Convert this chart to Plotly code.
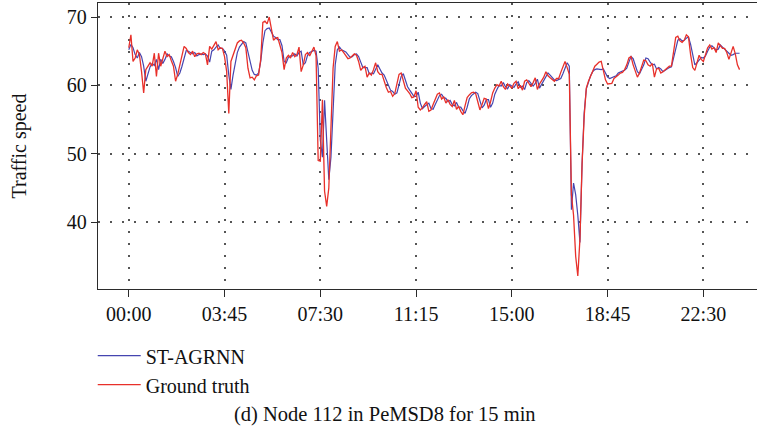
import plotly.graph_objects as go

# 5-minute samples over one day (minutes after midnight)
minutes = [5 * k for k in range(288)]

tick_minutes = [0, 225, 450, 675, 900, 1125, 1350]
tick_labels = ["00:00", "03:45", "07:30", "11:15", "15:00", "18:45", "22:30"]
speed_ticks = [40, 50, 60, 70]

ground_truth = [
    65.5, 67.4, 63.5, 64.0, 65.2, 64.5, 62.0, 58.9, 62.3, 62.8,
    63.3, 62.8, 64.7, 61.3, 64.7, 62.8, 64.0, 65.0, 64.2, 64.5,
    63.6, 62.8, 60.6, 61.6, 63.0, 64.2, 65.7, 65.4, 64.8, 64.5,
    65.0, 64.2, 64.6, 64.7, 64.5, 64.8, 64.6, 63.0, 65.7, 65.3,
    65.8, 66.4, 65.2, 65.5, 65.4, 64.2, 62.0, 55.9, 63.5, 64.5,
    65.5, 66.2, 66.5, 66.6, 66.2, 65.5, 62.5, 61.1, 61.2, 60.8,
    61.4, 61.5, 63.8, 69.2, 69.4, 69.0, 70.0, 68.5, 66.6, 66.9,
    67.0, 65.9, 64.8, 62.3, 64.0, 64.4, 64.0, 64.8, 64.2, 64.5,
    65.6, 62.0, 63.0, 64.5, 64.8, 64.3, 65.0, 65.6, 64.3, 49.0,
    48.9, 57.9, 44.5, 42.3, 45.0, 55.0, 62.5, 65.7, 66.4, 65.0,
    65.2, 64.8, 64.4, 63.9, 64.0, 64.3, 64.6, 64.4, 63.5, 62.2,
    62.6, 62.8, 61.2, 61.8, 61.5, 62.3, 63.3, 62.0, 61.6, 61.6,
    60.5, 59.7, 59.0, 59.1, 58.4, 58.8, 60.2, 61.6, 61.8, 60.6,
    59.6, 59.2, 58.8, 58.2, 58.3, 59.2, 56.8, 56.4, 56.7, 57.2,
    57.6, 56.2, 56.4, 57.2, 57.9, 58.7, 58.9, 58.0, 58.3, 57.4,
    57.9, 57.2, 56.9, 57.8, 56.5, 56.9, 56.2, 55.7, 57.0, 58.2,
    58.6, 58.9, 59.0, 58.8, 57.6, 56.4, 57.2, 58.1, 58.0, 56.6,
    57.6, 58.9, 59.6, 60.1, 59.9, 60.6, 59.8, 59.4, 60.2, 59.9,
    59.6, 60.3, 60.6, 59.5, 60.0, 59.3, 60.6, 60.8, 60.3, 59.8,
    60.4, 61.1, 59.4, 60.2, 60.7, 61.2, 62.0, 61.4, 61.1, 60.8,
    60.6, 61.0, 61.0, 61.9, 62.8, 63.5, 62.6, 61.6, 44.0, 41.0,
    35.0, 32.1, 37.5, 48.5, 55.5, 59.6, 60.6, 61.4, 62.0, 62.8,
    63.1, 63.4, 63.5, 62.3, 60.8, 60.2, 60.2, 60.3, 61.0, 61.2,
    61.5, 61.8, 61.9, 62.3, 63.0, 64.0, 64.2, 63.0, 61.9, 61.2,
    61.8, 62.6, 63.7, 63.6, 63.0, 62.8, 63.2, 61.2, 62.4, 62.5,
    61.8, 62.0, 62.3, 62.5, 62.8, 62.8, 65.0, 67.0, 67.2, 66.5,
    66.3, 66.6, 67.4, 67.1, 64.5, 62.6, 62.2, 63.2, 64.4, 63.8,
    63.5, 64.5, 65.5, 65.9, 65.3, 65.5, 64.8, 66.2, 65.7, 65.4,
    65.4, 64.8, 63.8, 64.8, 65.7, 64.6, 63.0, 62.3,
]

st_agrnn = [
    65.2, 66.0, 65.5, 64.5, 64.0, 64.8, 64.2, 62.8, 60.6, 61.8,
    62.7, 63.2, 62.9, 63.8, 62.3, 63.8, 63.2, 63.8, 64.6, 64.3,
    64.2, 63.5, 62.6, 61.3, 61.8, 62.8, 64.0, 65.1, 65.0, 64.8,
    64.6, 64.8, 64.3, 64.5, 64.6, 64.5, 64.6, 64.3, 63.4, 65.0,
    65.2, 65.6, 65.9, 65.4, 65.4, 65.0, 64.4, 61.5, 59.4, 61.5,
    63.3, 64.8, 65.6, 66.1, 66.4, 66.2, 65.0, 63.8, 62.2, 61.6,
    61.5, 61.8, 63.5, 66.2, 68.0, 68.3, 68.4, 67.8, 67.2, 67.0,
    66.7, 66.7, 65.8, 63.5, 63.3, 64.1, 64.3, 64.3, 64.6, 64.3,
    64.8, 65.0, 63.0, 63.3, 64.4, 64.8, 64.9, 65.1, 65.0, 62.5,
    52.0, 49.5, 57.8, 52.0, 46.2, 49.5, 57.5, 63.0, 65.2, 65.6,
    65.2, 65.1, 64.9, 64.5, 64.1, 64.2, 64.5, 64.6, 64.2, 63.4,
    62.6, 62.6, 62.6, 61.7, 61.8, 61.7, 62.3, 63.0, 62.4, 61.8,
    61.5, 60.7, 59.9, 59.3, 59.1, 58.7, 58.9, 60.0, 61.3, 61.7,
    60.7, 59.8, 59.3, 58.9, 58.4, 58.4, 59.0, 57.4, 56.6, 56.9,
    57.2, 57.4, 56.6, 56.5, 57.2, 57.9, 58.5, 58.7, 58.2, 58.1,
    57.6, 57.8, 57.2, 57.0, 57.5, 56.8, 56.8, 56.3, 55.9, 56.8,
    58.0, 58.5, 58.8, 59.0, 58.8, 57.8, 56.7, 57.1, 57.9, 57.9,
    56.8, 57.4, 58.7, 59.4, 60.0, 59.9, 60.4, 59.8, 59.5, 60.1,
    59.9, 59.7, 60.2, 60.5, 59.7, 59.9, 59.4, 60.4, 60.7, 60.3,
    59.9, 60.3, 60.9, 59.6, 60.1, 60.6, 61.1, 61.8, 61.5, 61.1,
    60.8, 60.7, 60.9, 61.0, 61.7, 62.6, 63.3, 62.8, 41.8, 45.7,
    44.0, 41.0, 37.0, 48.5, 56.0, 59.5, 60.6, 61.4, 62.0, 62.3,
    62.4, 62.3, 62.3, 62.4, 61.8, 61.2, 61.0, 61.1, 61.2, 61.4,
    61.8, 62.0, 62.1, 62.2, 62.5, 63.4, 64.2, 63.9, 63.0, 62.0,
    61.7, 62.3, 63.0, 64.0, 63.9, 63.4, 63.0, 63.1, 62.4, 62.6,
    62.4, 62.0, 62.2, 62.5, 62.6, 62.7, 63.8, 65.3, 66.6, 66.8,
    66.5, 66.6, 66.9, 67.1, 66.0, 64.2, 63.0, 63.3, 63.8, 64.1,
    64.0, 64.3, 65.0, 65.6, 65.8, 65.5, 65.2, 65.3, 65.9, 65.6,
    65.3, 65.0, 64.6, 64.4, 64.5, 64.7, 64.7, 64.7,
]

SERIF = "Liberation Serif"
AXIS_COLOR = "#2b2b2b"
GRID_COLOR = "#555555"

fig = go.Figure()
fig.add_trace(go.Scatter(
    x=minutes, y=st_agrnn, mode="lines", name="ST-AGRNN",
    line=dict(color="#4545b0", width=1.2),
))
fig.add_trace(go.Scatter(
    x=minutes, y=ground_truth, mode="lines", name="Ground truth",
    line=dict(color="#e8302a", width=1.3),
))

fig.update_layout(
    width=757, height=436,
    margin=dict(l=98, r=0, t=3, b=147),
    paper_bgcolor="white", plot_bgcolor="white",
    font=dict(family=SERIF, size=20, color="#111111"),
    showlegend=True,
    legend=dict(
        orientation="v", x=-0.008, xanchor="left", y=-0.165, yanchor="top",
        bgcolor="rgba(0,0,0,0)", font=dict(family=SERIF, size=20),
        tracegroupgap=0, itemwidth=43,
    ),
    annotations=[dict(
        text="(d) Node 112 in PeMSD8 for 15 min",
        xref="paper", yref="paper", x=0.436, y=-0.438,
        xanchor="center", yanchor="middle", showarrow=False,
        font=dict(family=SERIF, size=20.5, color="#111111"),
    )],
)

fig.update_xaxes(
    range=[-72.3, 1476], tickvals=tick_minutes, ticktext=tick_labels,
    showline=True, linecolor=AXIS_COLOR, linewidth=1.3, mirror=True,
    ticks="outside", ticklen=7, tickwidth=1.3, tickcolor=AXIS_COLOR,
    showgrid=True, gridcolor=GRID_COLOR, gridwidth=1.5, griddash="2px,10px",
    zeroline=False, tickfont=dict(family=SERIF, size=20),
)
fig.update_yaxes(
    range=[30.2, 72.05], tickvals=speed_ticks,
    showline=True, linecolor=AXIS_COLOR, linewidth=1.3, mirror=False,
    ticks="outside", ticklen=6, tickwidth=1.3, tickcolor=AXIS_COLOR,
    showgrid=True, gridcolor=GRID_COLOR, gridwidth=1.5, griddash="2px,10px",
    zeroline=False, tickfont=dict(family=SERIF, size=20),
    title=dict(text="Traffic speed", font=dict(family=SERIF, size=20), standoff=34),
)

fig.write_html("out.html")
